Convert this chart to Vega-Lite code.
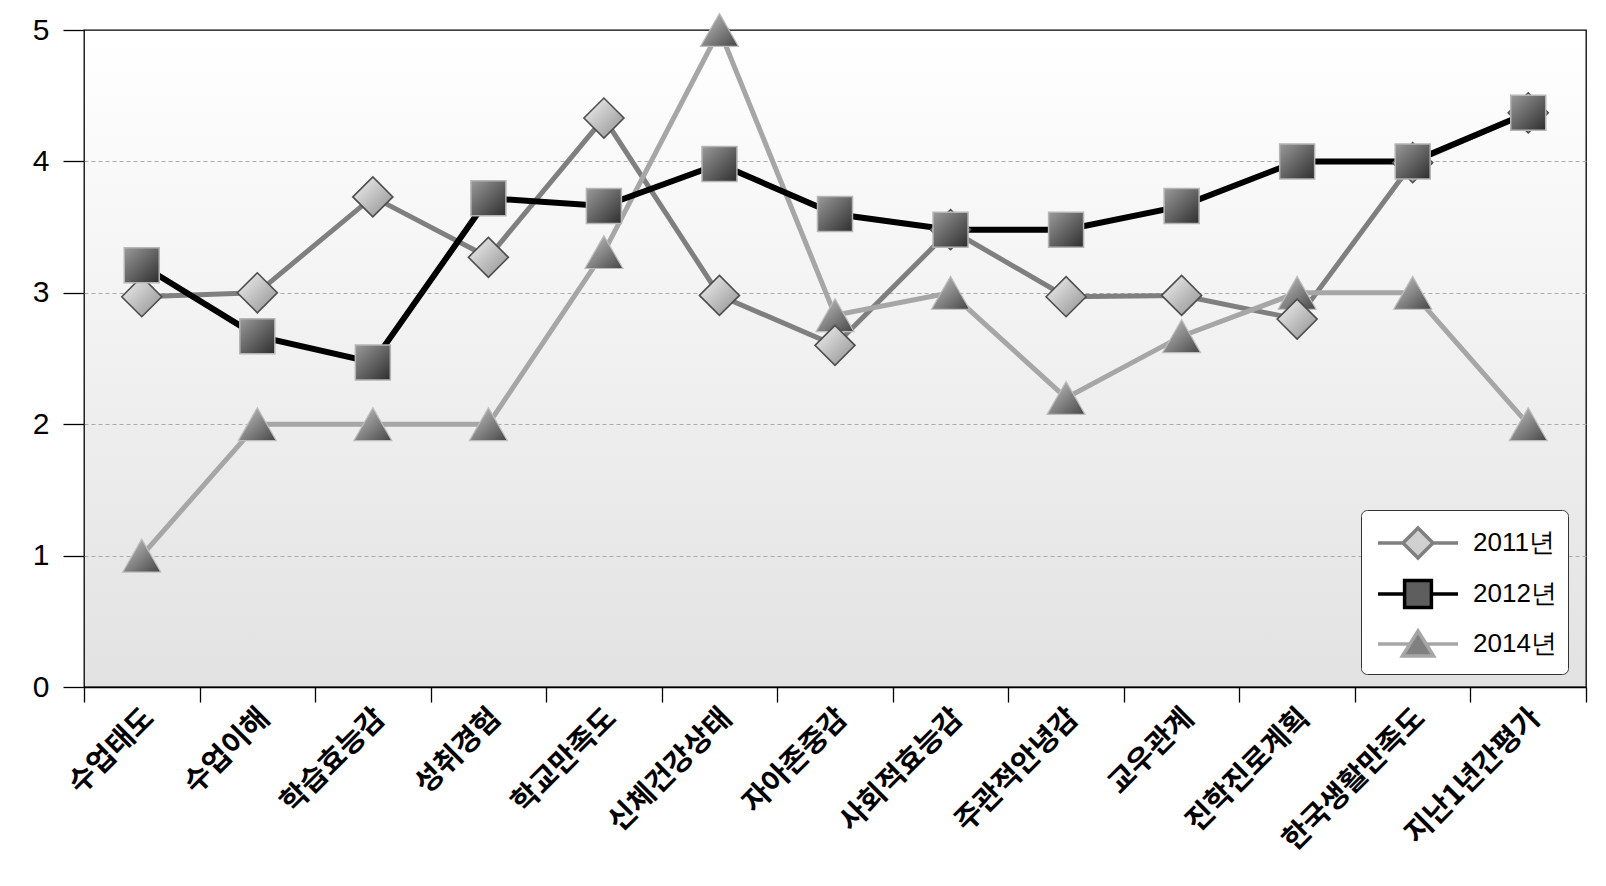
{
  "$schema": "https://vega.github.io/schema/vega-lite/v6.json",
  "width": 1502,
  "height": 657,
  "autosize": "none",
  "padding": {"left": 84, "top": 30, "right": 20, "bottom": 199},
  "background": "white",
  "config": {
    "view": {
      "stroke": "#000000",
      "strokeWidth": 1.3,
      "fill": {"gradient": "linear", "x1": 0, "y1": 0, "x2": 0, "y2": 1, "stops": [{"offset": 0, "color": "#ffffff"}, {"offset": 1, "color": "#e2e2e2"}]}
    }
  },
  "data": {"values": [
    {"item": "수업태도", "series": "2011년", "value": 2.97},
    {"item": "수업이해", "series": "2011년", "value": 3.0},
    {"item": "학습효능감", "series": "2011년", "value": 3.73},
    {"item": "성취경험", "series": "2011년", "value": 3.27},
    {"item": "학교만족도", "series": "2011년", "value": 4.33},
    {"item": "신체건강상태", "series": "2011년", "value": 2.98},
    {"item": "자아존중감", "series": "2011년", "value": 2.6},
    {"item": "사회적효능감", "series": "2011년", "value": 3.48},
    {"item": "주관적안녕감", "series": "2011년", "value": 2.97},
    {"item": "교우관계", "series": "2011년", "value": 2.98},
    {"item": "진학진로계획", "series": "2011년", "value": 2.8},
    {"item": "한국생활만족도", "series": "2011년", "value": 3.99},
    {"item": "지난1년간평가", "series": "2011년", "value": 4.37},
    {"item": "수업태도", "series": "2012년", "value": 3.21},
    {"item": "수업이해", "series": "2012년", "value": 2.67},
    {"item": "학습효능감", "series": "2012년", "value": 2.47},
    {"item": "성취경험", "series": "2012년", "value": 3.72},
    {"item": "학교만족도", "series": "2012년", "value": 3.66},
    {"item": "신체건강상태", "series": "2012년", "value": 3.98},
    {"item": "자아존중감", "series": "2012년", "value": 3.6},
    {"item": "사회적효능감", "series": "2012년", "value": 3.48},
    {"item": "주관적안녕감", "series": "2012년", "value": 3.48},
    {"item": "교우관계", "series": "2012년", "value": 3.66},
    {"item": "진학진로계획", "series": "2012년", "value": 4.0},
    {"item": "한국생활만족도", "series": "2012년", "value": 4.0},
    {"item": "지난1년간평가", "series": "2012년", "value": 4.37},
    {"item": "수업태도", "series": "2014년", "value": 1.0},
    {"item": "수업이해", "series": "2014년", "value": 2.0},
    {"item": "학습효능감", "series": "2014년", "value": 2.0},
    {"item": "성취경험", "series": "2014년", "value": 2.0},
    {"item": "학교만족도", "series": "2014년", "value": 3.31},
    {"item": "신체건강상태", "series": "2014년", "value": 5.0},
    {"item": "자아존중감", "series": "2014년", "value": 2.83},
    {"item": "사회적효능감", "series": "2014년", "value": 3.0},
    {"item": "주관적안녕감", "series": "2014년", "value": 2.2},
    {"item": "교우관계", "series": "2014년", "value": 2.67},
    {"item": "진학진로계획", "series": "2014년", "value": 3.0},
    {"item": "한국생활만족도", "series": "2014년", "value": 3.0},
    {"item": "지난1년간평가", "series": "2014년", "value": 2.0}
  ]},
  "encoding": {
    "x": {
      "field": "item", "type": "nominal", "sort": null, "bandPosition": 0.5,
      "scale": {"type": "band", "paddingInner": 0, "paddingOuter": 0},
      "axis": {
        "title": null, "tickBand": "extent", "tickSize": 15, "tickColor": "#000", "tickWidth": 1.3,
        "domainColor": "#000", "domainWidth": 1.3,
        "labelAngle": -45, "labelAlign": "right", "labelBaseline": "middle",
        "labelFont": "Noto Sans CJK KR", "labelFontSize": 29, "labelFontWeight": "bold", "labelColor": "#000",
        "labelPadding": 11, "labelOffset": 7, "labelLimit": 500, "labelOverlap": false,
        "grid": false
      }
    },
    "y": {
      "field": "value", "type": "quantitative",
      "scale": {"domain": [0, 5], "nice": false, "zero": true},
      "axis": {
        "title": null, "values": [0, 1, 2, 3, 4, 5], "tickSize": 21, "tickColor": "#000", "tickWidth": 1.3,
        "domain": false, "labelFont": "Liberation Sans", "labelFontSize": 30, "labelColor": "#000", "labelPadding": 14,
        "grid": true, "gridColor": "#aaaaaa", "gridDash": [4, 3], "gridWidth": 1,
        "gridOpacity": {"condition": {"test": "datum.value == 0 || datum.value == 5", "value": 0}, "value": 1}
      }
    }
  },
  "layer": [
    {"transform": [{"filter": {"field": "series", "equal": "2011년"}}],
     "mark": {"type": "line", "stroke": "#7f7f7f", "strokeWidth": 5}},
    {"transform": [{"filter": {"field": "series", "equal": "2014년"}}],
     "mark": {"type": "line", "stroke": "#a6a6a6", "strokeWidth": 5}},
    {"transform": [{"filter": {"field": "series", "equal": "2012년"}}],
     "mark": {"type": "line", "stroke": "#000000", "strokeWidth": 6}},
    {"transform": [{"filter": {"field": "series", "equal": "2014년"}}],
     "mark": {"type": "point", "shape": "triangle-up", "size": 1444, "filled": true, "opacity": 1,
       "fill": {"gradient": "linear", "x1": 0, "y1": 0, "x2": 1, "y2": 1, "stops": [{"offset": 0, "color": "#c8c8c8"}, {"offset": 1, "color": "#454545"}]},
       "stroke": "#bdbdbd", "strokeWidth": 1.2}},
    {"transform": [{"filter": {"field": "series", "equal": "2011년"}}],
     "mark": {"type": "point", "shape": "diamond", "size": 1600, "filled": true, "opacity": 1,
       "fill": {"gradient": "linear", "x1": 0, "y1": 0, "x2": 1, "y2": 1, "stops": [{"offset": 0, "color": "#f4f4f4"}, {"offset": 1, "color": "#8e8e8e"}]},
       "stroke": "#4d4d4d", "strokeWidth": 1.6}},
    {"transform": [{"filter": {"field": "series", "equal": "2012년"}}],
     "mark": {"type": "point", "shape": "square", "size": 1225, "filled": true, "opacity": 1,
       "fill": {"gradient": "linear", "x1": 0, "y1": 0, "x2": 1, "y2": 1, "stops": [{"offset": 0, "color": "#9a9a9a"}, {"offset": 1, "color": "#2e2e2e"}]},
       "stroke": "#b5b5b5", "strokeWidth": 1.5}},
    {"mark": {"type": "point", "filled": true, "opacity": 0},
     "encoding": {
       "shape": {"field": "series", "type": "nominal",
         "scale": {"domain": ["2011년", "2012년", "2014년"], "range": [
           "M-2,0L-0.75,0M0.75,0L2,0M0,-0.75L0.75,0L0,0.75L-0.75,0Z",
           "M-2,0L-0.67,0M0.67,0L2,0M-0.67,-0.67L0.67,-0.67L0.67,0.67L-0.67,0.67Z",
           "M-2,0L-0.41,0M0.41,0L2,0M0,-0.65L0.78,0.6L-0.78,0.6Z"]},
         "legend": {
           "title": null, "orient": "none", "legendX": 1277, "legendY": 480,
           "padding": 11, "fillColor": "#ffffff", "strokeColor": "#333333", "cornerRadius": 6,
           "symbolSize": 1600, "symbolStrokeWidth": 3.5, "symbolOpacity": 1, "rowPadding": 7,
           "symbolOffset": 24, "labelOffset": 33,
           "labelFont": "Liberation Sans", "labelFontSize": 26, "labelColor": "#000", "labelLimit": 300
         }},
       "fill": {"field": "series", "type": "nominal",
         "scale": {"domain": ["2011년", "2012년", "2014년"], "range": ["#d0d0d0", "#5e5e5e", "#808080"]}},
       "stroke": {"field": "series", "type": "nominal",
         "scale": {"domain": ["2011년", "2012년", "2014년"], "range": ["#7f7f7f", "#000000", "#a6a6a6"]}}
     }}
  ]
}
